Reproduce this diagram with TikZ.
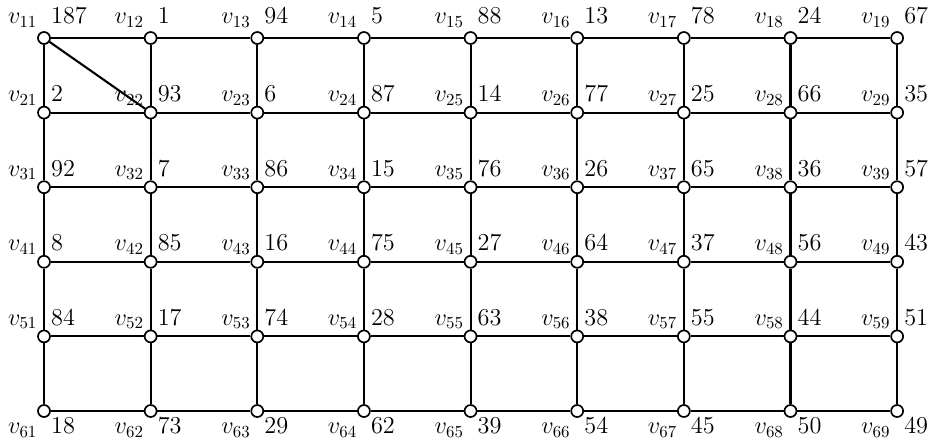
\documentclass[tikz,border=0pt]{standalone}
\usepackage{amsmath,amssymb}
\usepackage{tikz}

\tikzset{
  vtx/.style={circle,draw,fill=white,line width=1.2pt,minimum size=0.3cm,inner sep=0pt},
  gline/.style={line width=1.5pt},
  vname/.style={anchor=base east,inner sep=0pt,font=\fontsize{14.4}{17}\selectfont,scale=1.2,transform shape},
  wnum/.style={anchor=base west,inner sep=0pt,font=\fontsize{14.4}{17}\selectfont,scale=1.2,transform shape},
}

\begin{document}
\begin{tikzpicture}[scale=1.0]
\useasboundingbox (0,0) rectangle (23.475,-11.05);
% vertices with names and weights, row by row
\foreach \r/\dy/\nums in {1/0.36/{187,1,94,5,88,13,78,24,67},
                          2/0.28/{2,93,6,87,14,77,25,66,35},
                          3/0.28/{92,7,86,15,76,26,65,36,57},
                          4/0.28/{8,85,16,75,27,64,37,56,43},
                          5/0.28/{84,17,74,28,63,38,55,44,51},
                          6/-0.56/{18,73,29,62,39,54,45,50,49}}{
  \foreach \w [count=\c] in \nums {
    \node[vtx] (v\r\c) at ({1.1+2.666*(\c-1)},{-0.95-1.865*(\r-1)}) {};
    \node[vname] (n\r\c) at ([shift={(-0.16,\dy)}]v\r\c.center) {$v_{\r\c}$};
    \node[wnum] (w\r\c) at ([shift={(0.17,\dy)}]v\r\c.center) {\w};
  }
}
% grid edges
\foreach \r in {1,...,6}
  \foreach \c [count=\k from 2] in {1,...,8}
    \draw[gline] (v\r\c) -- (v\r\k);
\foreach \r [count=\s from 2] in {1,...,5}
  \foreach \c in {1,...,9}
    \draw[gline] (v\r\c) -- (v\s\c);
\draw[gline] (v11) -- (v22);
\end{tikzpicture}
\end{document}
